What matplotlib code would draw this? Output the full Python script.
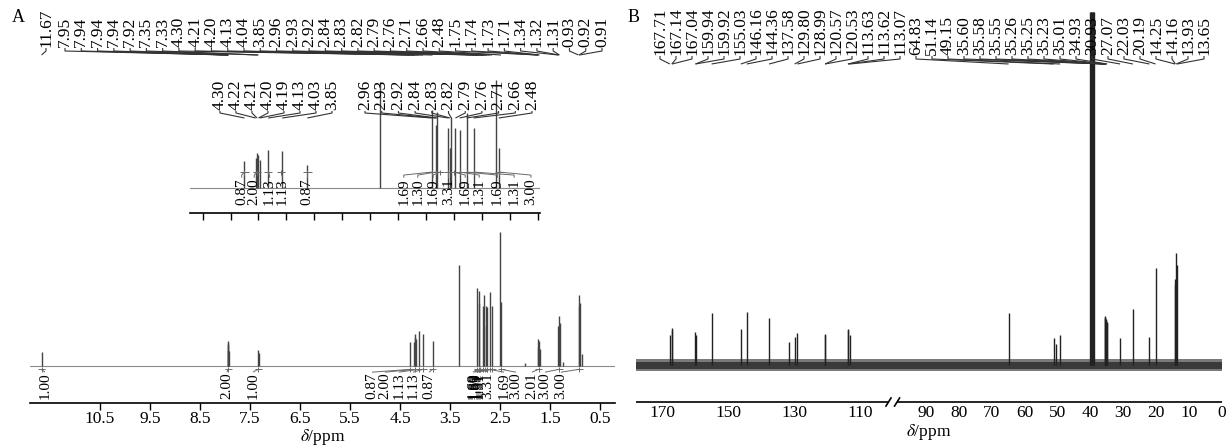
import numpy as np
import matplotlib
matplotlib.use("Agg")
import matplotlib.pyplot as plt
from matplotlib.collections import LineCollection
from matplotlib import transforms

plt.rcParams['font.family'] = ['Liberation Serif', 'DejaVu Serif']
plt.rcParams['mathtext.fontset'] = 'stix'

# ---------------- data: panel A (1H NMR) ----------------
a_peak_ppm = [11.67, 7.95, 7.944, 7.94, 7.936, 7.92, 7.35, 7.33, 4.30, 4.22, 4.21, 4.20, 4.19,
              4.13, 4.04, 3.85, 3.33, 2.96, 2.93, 2.92, 2.84, 2.83, 2.82, 2.79, 2.76, 2.71,
              2.66, 2.50, 2.48, 2.00, 1.75, 1.74, 1.73, 1.71, 1.34, 1.32, 1.31, 1.24,
              0.93, 0.92, 0.91, 0.86]
a_peak_int = [10.5, 12, 17, 19, 16, 11, 12, 10, 18, 18, 22, 24, 20,
              26, 24, 19, 75, 58, 47, 56, 45, 30, 53, 45, 44, 55,
              45, 100, 48, 2, 14, 20, 19, 13, 30, 37, 32, 3,
              45, 53, 47, 9]

a_top_labels = ['11.67', '7.95', '7.94', '7.94', '7.94', '7.92', '7.35', '7.33', '4.30', '4.21',
                '4.20', '4.13', '4.04', '3.85', '2.96', '2.93', '2.92', '2.84', '2.83', '2.82',
                '2.79', '2.76', '2.71', '2.66', '2.48', '1.75', '1.74', '1.73', '1.71', '1.34',
                '1.32', '1.31', '0.93', '0.92', '0.91']

a_int_labels = ['1.00', '2.00', '1.00', '0.87', '2.00', '1.13', '1.13', '0.87',
                '1.69', '1.30', '1.69', '3.31', '1.69', '1.31', '1.69', '1.31', '3.00',
                '2.01', '3.00', '3.00']
a_int_center = [11.67, 7.94, 7.34, 4.30, 4.21, 4.13, 4.04, 3.85,
                2.96, 2.93, 2.90, 2.84, 2.80, 2.76, 2.71, 2.66, 2.48,
                1.73, 1.32, 0.92]

a_ticks = [10.5, 9.5, 8.5, 7.5, 6.5, 5.5, 4.5, 3.5, 2.5, 1.5, 0.5]
a_ticklabels = ['10.5', '9.5', '8.5', '7.5', '6.5', '5.5', '4.5', '3.5', '2.5', '1.5', '0.5']

# inset of panel A (expanded 4.7-2.2 ppm)
i_peak_ppm = [4.30, 4.22, 4.21, 4.20, 4.19, 4.13, 4.03, 3.85, 3.33, 2.96, 2.93, 2.92, 2.84,
              2.83, 2.82, 2.79, 2.76, 2.71, 2.66, 2.50, 2.48]
i_peak_int = [25, 28, 32, 31, 26, 35, 34, 21, 98, 72, 58, 70, 56,
              37, 66, 56, 54, 69, 56, 100, 37]
i_left_labels = ['4.30', '4.22', '4.21', '4.20', '4.19', '4.13', '4.03', '3.85']
i_right_labels = ['2.96', '2.93', '2.92', '2.84', '2.83', '2.82', '2.79', '2.76', '2.71', '2.66', '2.48']
i_int_labels = ['0.87', '2.00', '1.13', '1.13', '0.87',
                '1.69', '1.30', '1.69', '3.31', '1.69', '1.31', '1.69', '1.31', '3.00']
i_int_center = [4.30, 4.21, 4.13, 4.04, 3.85,
                2.96, 2.93, 2.90, 2.84, 2.80, 2.76, 2.71, 2.66, 2.48]
i_ticks = [4.6, 4.4, 4.2, 4.0, 3.8, 3.6, 3.4, 3.2, 3.0, 2.8, 2.6, 2.4, 2.2]

# ---------------- data: panel B (13C NMR) ----------------
b_peak_ppm = [167.71, 167.14, 167.04, 159.94, 159.92, 155.03, 146.16, 144.36, 137.58, 131.6,
              129.80, 128.99, 120.57, 120.53, 113.63, 113.62, 113.07, 64.83, 51.14, 50.3, 49.15,
              40.13, 39.92, 39.71, 39.50, 39.29, 39.08, 38.87,
              35.60, 35.58, 35.55, 35.26, 35.25, 35.23, 35.01, 34.93, 30.93, 27.07, 22.03,
              20.19, 14.25, 14.16, 13.93, 13.65]
b_peak_int = [30, 37, 35, 33, 30, 52, 36, 53, 47, 23,
              28, 32, 31, 30, 36, 35, 30, 52, 27, 21, 30,
              353, 353, 353, 353, 353, 353, 353,
              49, 48, 47, 46, 45, 44, 43, 42, 27, 56, 28,
              97, 86, 80, 112, 100]
b_top_labels = ['167.71', '167.14', '167.04', '159.94', '159.92', '155.03', '146.16', '144.36',
                '137.58', '129.80', '128.99', '120.57', '120.53', '113.63', '113.62', '113.07',
                '64.83', '51.14', '49.15', '35.60', '35.58', '35.55', '35.26', '35.25', '35.23',
                '35.01', '34.93', '30.93', '27.07', '22.03', '20.19', '14.25', '14.16', '13.93',
                '13.65']
b_ticks = [170, 150, 130, 110, 90, 80, 70, 60, 50, 40, 30, 20, 10, 0]
b_ticklabels = ['170', '150', '130', '110', '90', '80', '70', '60', '50', '40', '30', '20', '10', '0']

# ---------------- figure / layout helpers ----------------
W, H = 1229, 445
fig = plt.figure(figsize=(W / 100, H / 100), dpi=100)


def fx(x):
    return x / W


def fy(y):
    return 1 - y / H


def axes_px(x0, x1, ytop, ybot):
    return fig.add_axes([fx(x0), fy(ybot), (x1 - x0) / W, (ybot - ytop) / H])


def clean(ax):
    for s in ['top', 'right', 'left']:
        ax.spines[s].set_visible(False)
    ax.set_yticks([])
    ax.patch.set_alpha(0)


LAB_FS = 12.5
INT_FS = 11
TICK_FS = 12.5
LEAD_C = '#333333'

# ---------------- panel A main ----------------
axA = axes_px(30, 615, 225, 403)
axA.set_xlim(11.9, 0.2)
axA.set_ylim(-27.6, 105.2)
clean(axA)
axA.axhline(0, color='#8a8a8a', lw=0.8, zorder=1)
axA.vlines(a_peak_ppm, 0, a_peak_int, color='#444444', lw=1.0, zorder=2)
axA.spines['bottom'].set_linewidth(1.2)
axA.set_xticks(a_ticks)
axA.set_xticklabels(a_ticklabels)
axA.tick_params(axis='x', direction='out', length=5, width=1, labelsize=TICK_FS, pad=1)
axA.set_xlabel(r'$\delta$/ppm', fontsize=TICK_FS)
axA.xaxis.set_label_coords(0.5, -0.135)

# integrals (main A)
a_int_label_pos = [11.6, 7.96, 7.44, 5.06, 4.80, 4.52, 4.24, 3.92,
                   3.04, 3.02, 3.00, 2.74, 2.97, 2.95, 2.42, 2.92, 2.18,
                   1.86, 1.60, 1.28]
segs = []
for lab, pos, c in zip(a_int_labels, a_int_label_pos, a_int_center):
    axA.text(pos, -4.8, lab, rotation=90, ha='center', va='top', fontsize=INT_FS)
    segs.append([(c - 0.07, -2.5), (c + 0.07, -2.5)])
    segs.append([(c, -0.5), (c, -4.5)])
    segs.append([(pos, -4.6), (c, -2.5)])
axA.add_collection(LineCollection(segs, colors='#6a6a6a', linewidths=0.7))

# ---------------- panel A inset ----------------
axI = axes_px(190, 540, 75, 213)
axI.set_xlim(4.69, 2.185)
axI.set_ylim(-23.1, 104.6)
clean(axI)
axI.axhline(0, color='#8a8a8a', lw=0.8, zorder=1)
axI.vlines(i_peak_ppm, 0, i_peak_int, color='#444444', lw=1.0, zorder=2)
axI.spines['bottom'].set_linewidth(1.2)
axI.set_xticks(i_ticks)
axI.set_xticklabels([])
axI.tick_params(axis='x', direction='out', length=5, width=1)

i_int_label_pos = [4.32, 4.23, 4.12, 4.03, 3.85,
                   3.16, 3.06, 2.95, 2.84, 2.72, 2.62, 2.49, 2.37, 2.25]
segs = []
for lab, pos, c in zip(i_int_labels, i_int_label_pos, i_int_center):
    axI.text(pos, 9.3, lab, rotation=90, ha='center', va='top', fontsize=INT_FS)
    segs.append([(c - 0.03, 14.8), (c + 0.03, 14.8)])
    segs.append([(c, 12.5), (c, 17.0)])
    segs.append([(pos, 9.5), (pos, 12.0), (c, 14.8)])
axI.add_collection(LineCollection(segs, colors='#6a6a6a', linewidths=0.7))

# ---------------- panel B ----------------
axB = axes_px(636, 1222, 8, 402)
axB.set_xlim(178, 0)
axB.set_ylim(-37, 357)
clean(axB)
axB.spines['bottom'].set_visible(False)
axB.axhspan(-6.0, 6.0, color='#7a7a7a', lw=0, zorder=1)
axB.axhspan(-3.5, 3.5, color='#3a3a3a', lw=0, zorder=1)
axB.vlines(b_peak_ppm, 0, b_peak_int, color='#222222', lw=1.0, zorder=2)
axB.set_xticks(b_ticks)
axB.set_xticklabels(b_ticklabels)
axB.tick_params(axis='x', length=0, labelsize=TICK_FS, pad=2)
axB.set_xlabel(r'$\delta$/ppm', fontsize=TICK_FS)
axB.xaxis.set_label_coords(0.5, -0.05)
trB = transforms.blended_transform_factory(axB.transData, axB.transAxes)
for xs, ys in [([178, 101.4], [0, 0]), ([98.6, 0], [0, 0]),
               ([102.2, 100.4], [-0.012, 0.012]), ([99.6, 97.8], [-0.012, 0.012])]:
    axB.plot(xs, ys, transform=trB, color='k', lw=1.2, clip_on=False, solid_capstyle='butt')

# ---------------- peak labels with leader lines ----------------
lead = []


def peak_labels(labels, xs, ybottom, ax, y_stub, y_target):
    for lab, x in zip(labels, xs):
        fig.text(fx(x), fy(ybottom), lab, rotation=90, ha='center', va='bottom', fontsize=LAB_FS)
        tx = ax.transData.transform((float(lab), 0))[0]
        lead.append([(fx(x), fy(ybottom + 1)), (fx(x), fy(y_stub)), (fx(tx), fy(y_target))])


a_lab_x = [46] + list(np.linspace(65, 602, len(a_top_labels) - 1))
peak_labels(a_top_labels, a_lab_x, 47, axA, 51, 55)
peak_labels(i_left_labels, np.linspace(220, 332, len(i_left_labels)), 110, axI, 113, 118)
peak_labels(i_right_labels, np.linspace(365, 532, len(i_right_labels)), 110, axI, 113, 118)
peak_labels(b_top_labels, np.linspace(660, 1204, len(b_top_labels)), 55, axB, 59, 64)
fig.add_artist(LineCollection(lead, transform=fig.transFigure, colors=LEAD_C, linewidths=0.8))

fig.text(fx(12), fy(18), 'A', fontsize=13, ha='left', va='center')
fig.text(fx(628), fy(18), 'B', fontsize=13, ha='left', va='center')

fig.savefig('out.png', dpi=100)
